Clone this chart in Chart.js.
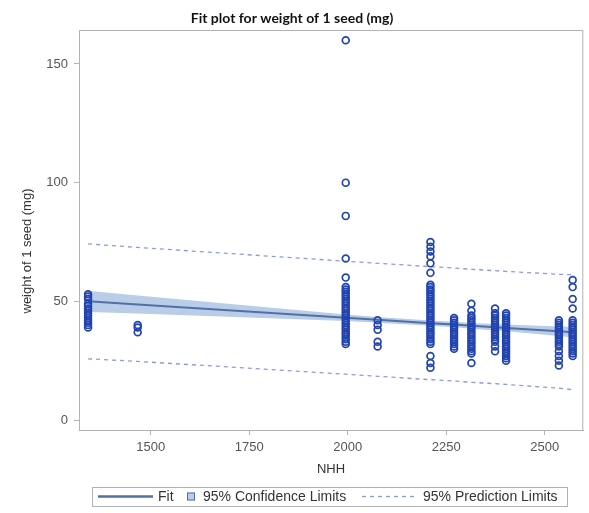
<!DOCTYPE html>
<html>
<head>
<meta charset="utf-8">
<script src="https://cdn.jsdelivr.net/npm/chart.js@4.4.1/dist/chart.umd.min.js"></script>
<style>
  html, body { margin: 0; padding: 0; background: #fff; }
  #wrap { width: 589px; height: 513px; }
</style>
</head>
<body>
<div id="wrap"><canvas id="fitPlot" width="589" height="513"></canvas></div>
<script>
// NHH levels where seeds were weighed
const nhh = [1341, 1467, 1995, 2076, 2210, 2270, 2314, 2374, 2402, 2536, 2571];

// weight of 1 seed (mg), one list per NHH level
const seedWeights = [
  [53, 52, 51, 49, 48, 47, 46, 45, 44, 43, 42, 41, 40, 39],
  [40, 39, 37],
  [160, 100, 86, 68, 60, 56, 55, 54, 53, 52, 51, 50, 49, 48, 47, 46, 45, 44, 43, 42, 41, 40, 39, 38, 37, 36, 35, 34, 33, 32],
  [42, 40, 38, 33, 31],
  [75, 73, 71, 69, 66, 62, 57, 56, 55, 54, 53, 52, 51, 50, 49, 48, 47, 46, 45, 44, 43, 42, 41, 40, 39, 38, 37, 36, 35, 34, 33, 32, 27, 24, 22],
  [43, 42, 41, 40, 39, 38, 37, 36, 35, 34, 33, 32, 31, 30],
  [49, 46, 44, 43, 42, 41, 40, 39, 38, 37, 36, 35, 34, 33, 32, 31, 30, 29, 28, 24],
  [47, 45, 44, 43, 42, 41, 40, 39, 38, 37, 36, 35, 34, 33, 31, 29],
  [45, 44, 43, 42, 41, 40, 39, 38, 37, 36, 35, 34, 33, 32, 31, 30, 29, 28, 27, 26, 25],
  [42, 41, 40, 39, 38, 37, 36, 35, 34, 33, 32, 31, 29, 27, 25, 23],
  [59, 56, 51, 47, 42, 41, 40, 39, 38, 37, 36, 35, 34, 33, 32, 31, 30, 29, 28, 27]
];

// regression fit and limits at each NHH level
const fitLine = [50.0, 48.7, 43.1, 42.2, 40.8, 40.2, 39.7, 39.1, 38.8, 37.4, 37.0];
const clLower = [45.5, 44.9, 41.7, 41.0, 39.7, 39.05, 38.5, 37.75, 37.35, 35.4, 34.8];
const clUpper = [54.5, 52.5, 44.5, 43.4, 41.9, 41.35, 40.9, 40.45, 40.25, 39.4, 39.2];
const plLower = [25.8, 24.7, 19.3, 18.4, 17.0, 16.4, 15.9, 15.3, 15.0, 13.4, 12.8];
const plUpper = [74.2, 72.7, 66.9, 66.0, 64.6, 64.0, 63.5, 62.9, 62.6, 61.4, 61.2];

const xTicks = [1500, 1750, 2000, 2250, 2500];
const yTicks = [0, 50, 100, 150];

const legendItems = ['Fit', '95% Confidence Limits', '95% Prediction Limits'];

const COL_FIT = '#5070a6';
const COL_BAND = '#b9cde8';
const COL_PRED = '#8c9cd6';
const COL_PT = '#2244b0';
const COL_AXIS = '#b3b3b3';
const TICK_FONT = { family: 'Liberation Sans, Arial, sans-serif', size: 13 };

const pts = [];
nhh.forEach((x, i) => seedWeights[i].forEach(y => pts.push({ x, y })));
const asXY = arr => arr.map((y, i) => ({ x: nhh[i], y }));

// title, axis titles, frame and legend drawn by hand
const decor = {
  id: 'decor',
  afterDraw(chart) {
    const { ctx, chartArea: a } = chart;
    ctx.save();

    ctx.strokeStyle = COL_AXIS;
    ctx.lineWidth = 1;
    ctx.strokeRect(a.left + 0.5, a.top + 0.5, a.right - a.left - 1, a.bottom - a.top);

    ctx.fillStyle = '#111';
    ctx.font = 'bold 14px Lato, "Liberation Sans", sans-serif';
    ctx.textAlign = 'center';
    ctx.textBaseline = 'middle';
    ctx.fillText('Fit plot for weight of 1 seed (mg)', 292, 18);

    ctx.fillStyle = '#333';
    ctx.font = '13px "Liberation Sans", Arial, sans-serif';
    ctx.fillText('NHH', 331, 469);

    ctx.save();
    ctx.translate(27, 251);
    ctx.rotate(-Math.PI / 2);
    ctx.fillText('weight of 1 seed (mg)', 0, 0);
    ctx.restore();

    // legend
    const ly = 496.5;
    ctx.strokeStyle = COL_AXIS;
    ctx.strokeRect(92.5, 487.5, 475, 19);

    ctx.strokeStyle = COL_FIT;
    ctx.lineWidth = 2.5;
    ctx.beginPath(); ctx.moveTo(98, ly); ctx.lineTo(153, ly); ctx.stroke();

    ctx.fillStyle = COL_BAND;
    ctx.fillRect(187, ly - 4, 8, 8);
    ctx.strokeStyle = COL_FIT;
    ctx.lineWidth = 1;
    ctx.strokeRect(187.5, ly - 3.5, 7, 7);

    ctx.strokeStyle = COL_PRED;
    ctx.lineWidth = 1.3;
    ctx.setLineDash([4, 4]);
    ctx.beginPath(); ctx.moveTo(362, ly); ctx.lineTo(414, ly); ctx.stroke();
    ctx.setLineDash([]);

    ctx.fillStyle = '#333';
    ctx.font = '14px "Liberation Sans", Arial, sans-serif';
    ctx.textAlign = 'left';
    ctx.fillText(legendItems[0], 158, ly + 1);
    ctx.fillText(legendItems[1], 203, ly + 1);
    ctx.fillText(legendItems[2], 423, ly + 1);

    ctx.restore();
  }
};

new Chart(document.getElementById('fitPlot'), {
  type: 'scatter',
  data: {
    datasets: [
      {
        type: 'line', data: asXY(clLower), borderWidth: 0, pointRadius: 0,
        fill: false, order: 4
      },
      {
        type: 'line', data: asXY(clUpper), borderWidth: 0, pointRadius: 0,
        fill: '-1', backgroundColor: COL_BAND, order: 4
      },
      {
        type: 'line', data: asXY(plLower), borderColor: COL_PRED, borderWidth: 1.3,
        borderDash: [4, 4], pointRadius: 0, fill: false, order: 3
      },
      {
        type: 'line', data: asXY(plUpper), borderColor: COL_PRED, borderWidth: 1.3,
        borderDash: [4, 4], pointRadius: 0, fill: false, order: 3
      },
      {
        type: 'line', data: asXY(fitLine), borderColor: COL_FIT, borderWidth: 2,
        pointRadius: 0, fill: false, order: 2
      },
      {
        data: pts, pointStyle: 'circle', pointRadius: 3.4, borderWidth: 1.7,
        borderColor: COL_PT, backgroundColor: 'rgba(255,255,255,0)', order: 1
      }
    ]
  },
  options: {
    responsive: false,
    animation: false,
    layout: { padding: { top: 30, right: 3, left: 0, bottom: 0 } },
    plugins: { legend: { display: false }, title: { display: false }, tooltip: { enabled: false } },
    scales: {
      x: {
        type: 'linear', min: 1318, max: 2598,
        afterBuildTicks: s => { s.ticks = xTicks.map(v => ({ value: v })); },
        afterFit: s => { s.height = 83; },
        grid: { drawOnChartArea: false, tickLength: 5, color: COL_AXIS },
        border: { color: COL_AXIS },
        ticks: { font: TICK_FONT, color: '#555', padding: 5, maxRotation: 0, callback: v => String(v) }
      },
      y: {
        type: 'linear', min: -4.2, max: 164.3,
        afterBuildTicks: s => { s.ticks = yTicks.map(v => ({ value: v })); },
        afterFit: s => { s.width = 79; },
        grid: { drawOnChartArea: false, tickLength: 5, color: COL_AXIS },
        border: { color: COL_AXIS },
        ticks: { font: TICK_FONT, color: '#555', padding: 6 }
      }
    }
  },
  plugins: [decor]
});
</script>
</body>
</html>
